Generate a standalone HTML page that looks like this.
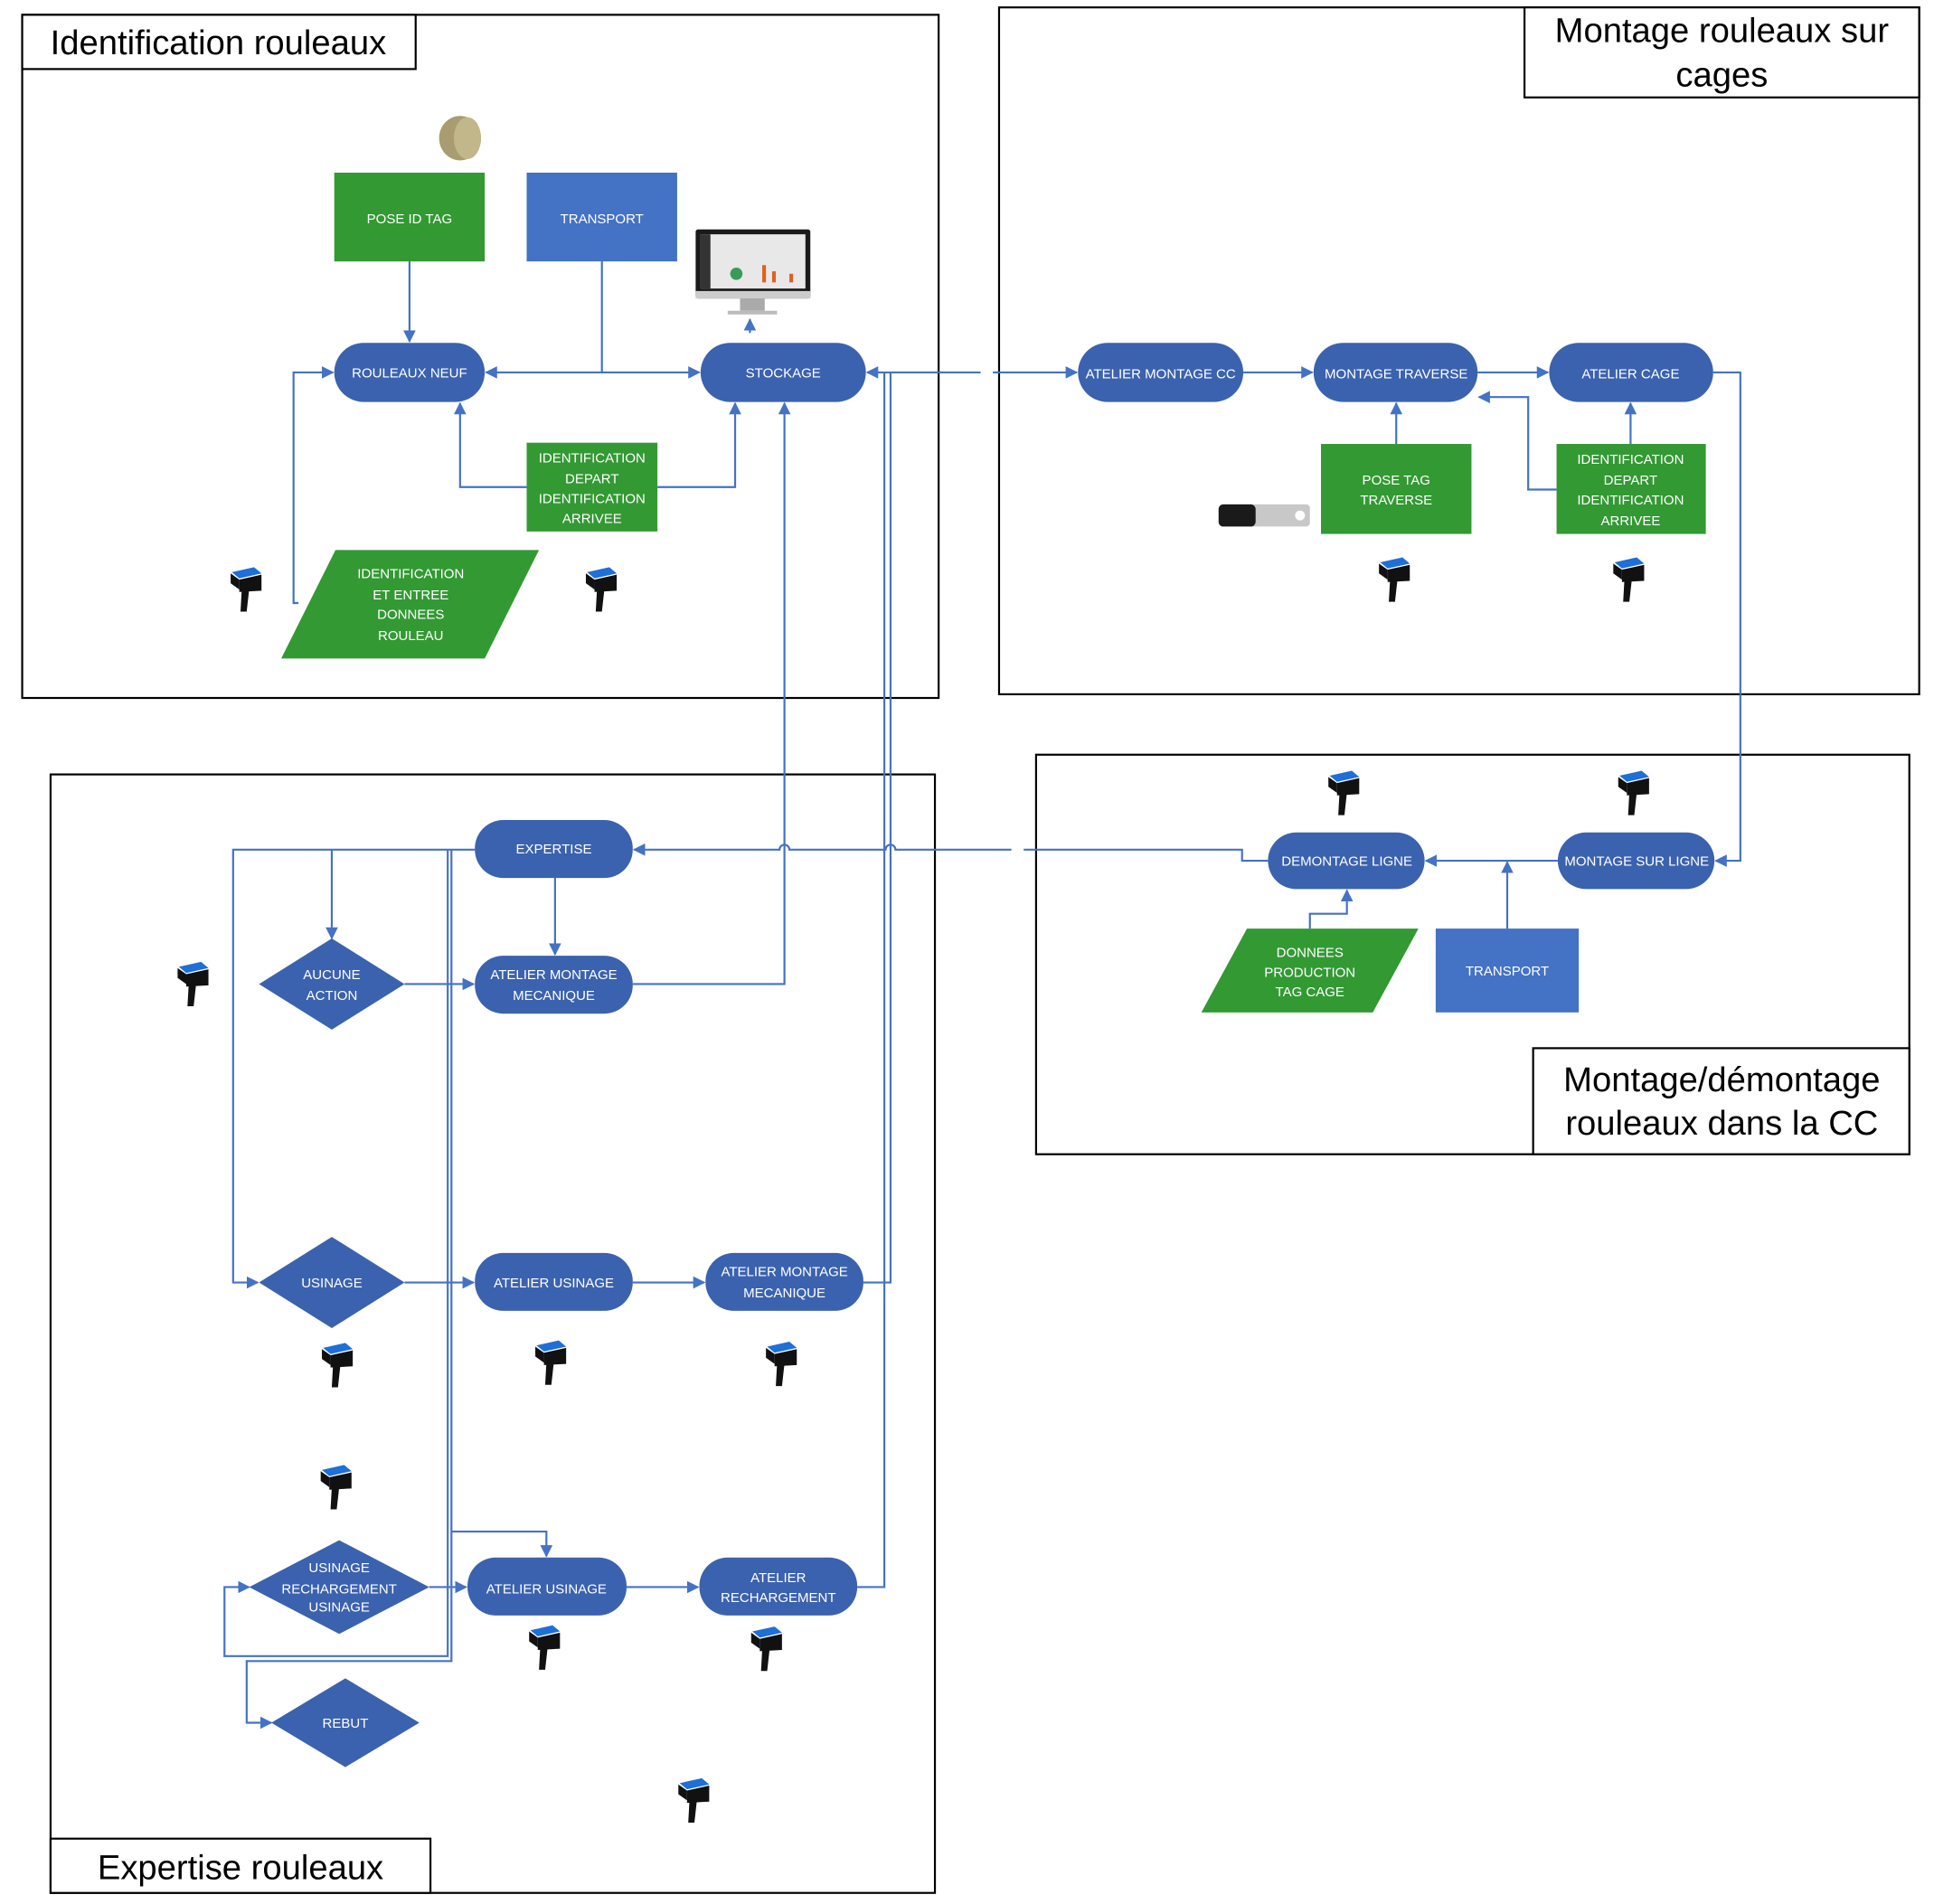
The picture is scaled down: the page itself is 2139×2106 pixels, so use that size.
<!DOCTYPE html>
<html><head><meta charset="utf-8"><style>
html,body{margin:0;padding:0;background:#fff;}
svg{display:block;}
.t{font-family:"Liberation Sans",sans-serif;fill:#fff;font-size:11px;text-anchor:middle;}
.h{font-family:"Liberation Sans",sans-serif;fill:#000;font-size:28px;text-anchor:middle;}
.c{stroke:#4472C4;stroke-width:1.6;fill:none;}
</style></head><body>
<svg width="2139" height="2106" viewBox="0 0 1568 1544" preserveAspectRatio="none" xmlns="http://www.w3.org/2000/svg">
<defs>
<marker id="a" viewBox="0 0 10 10" refX="9" refY="5" markerWidth="10" markerHeight="10" orient="auto-start-reverse" markerUnits="userSpaceOnUse"><path d="M0,0L10,5L0,10z" fill="#4472C4"/></marker>
<g id="sc">
<path d="M-12,-12 L6,-16 L12,-11 L-6,-7z" fill="#1e6fd6"/>
<path d="M-13,-11 L-6,-6 L-6,2 L-13,-3z" fill="#111"/>
<path d="M-6,-6 L12,-10 L12,3 L-6,4z" fill="#111"/>
<path d="M-4,2 L2,2 L0,20 L-5,20z" fill="#111"/>
</g>
</defs>
<rect width="1568" height="1544" fill="#fff"/>
<g fill="none" stroke="#000" stroke-width="1.6">
<rect x="18" y="12" width="743" height="554"/>
<rect x="18" y="12" width="319" height="44" fill="#fff"/>
<rect x="810" y="6" width="746" height="557"/>
<rect x="1236" y="6" width="320" height="73" fill="#fff"/>
<rect x="840" y="612" width="708" height="324"/>
<rect x="1243" y="850" width="305" height="86" fill="#fff"/>
<rect x="41" y="628" width="717" height="907"/>
<rect x="41" y="1491" width="308" height="44" fill="#fff"/>
</g>
<text class="h" x="177" y="44">Identification rouleaux</text>
<text class="h" x="1396" y="34">Montage rouleaux sur</text>
<text class="h" x="1396" y="70">cages</text>
<text class="h" x="1396" y="885">Montage/démontage</text>
<text class="h" x="1396" y="920">rouleaux dans la CC</text>
<text class="h" x="195" y="1524">Expertise rouleaux</text>

<g class="c">
<path d="M332,212V277" marker-end="url(#a)"/>
<path d="M488,212V302H394" marker-end="url(#a)"/>
<path d="M488,302H567" marker-end="url(#a)"/>
<path d="M427,395H373V327" marker-end="url(#a)"/>
<path d="M533,395H596V327" marker-end="url(#a)"/>
<path d="M608,270V259" marker-end="url(#a)"/>
<path d="M242,489H238V302H270" marker-end="url(#a)"/>
<path d="M795,302H703" marker-end="url(#a)"/>
<path d="M805,302H873" marker-end="url(#a)"/>
<path d="M1008,302H1064" marker-end="url(#a)"/>
<path d="M1198,302H1255" marker-end="url(#a)"/>
<path d="M1132,360V327" marker-end="url(#a)"/>
<path d="M1322,360V327" marker-end="url(#a)"/>
<path d="M1262,397H1239V322H1199" marker-end="url(#a)"/>
<path d="M1389,302H1411V698H1391" marker-end="url(#a)"/>
<path d="M1263,698H1156" marker-end="url(#a)"/>
<path d="M1222,753V699" marker-end="url(#a)"/>
<path d="M1062,753V741H1092V722" marker-end="url(#a)"/>
<path d="M1028,698H1007V689H830"/>
<path d="M820,689H726a4,4 0 0 0 -8,0H640a4,4 0 0 0 -8,0H514" marker-end="url(#a)"/>
<path d="M636,327V798H513" marker-start="url(#a)"/>
<path d="M717,302V1287H695"/>
<path d="M722,302V1040H700"/>
<path d="M385,689H189V1040H209" marker-end="url(#a)"/>
<path d="M269,689V761" marker-end="url(#a)"/>
<path d="M450,712V774" marker-end="url(#a)"/>
<path d="M363,689V1343H182V1287H202" marker-end="url(#a)"/>
<path d="M366,689V1347H200V1397H220" marker-end="url(#a)"/>
<path d="M328,798H384" marker-end="url(#a)"/>
<path d="M328,1040H384" marker-end="url(#a)"/>
<path d="M513,1040H571" marker-end="url(#a)"/>
<path d="M366,1242H443V1262" marker-end="url(#a)"/>
<path d="M348,1287H378" marker-end="url(#a)"/>
<path d="M508,1287H566" marker-end="url(#a)"/>
</g>

<rect x="271" y="140" width="122" height="72" fill="#339933"/>
<text class="t" x="332" y="181">POSE ID TAG</text>
<rect x="427" y="140" width="122" height="72" fill="#4472C4"/>
<text class="t" x="488" y="181">TRANSPORT</text>
<rect x="427" y="359" width="106" height="72" fill="#339933"/>
<text class="t" x="480" y="375">IDENTIFICATION</text><text class="t" x="480" y="392">DEPART</text><text class="t" x="480" y="408">IDENTIFICATION</text><text class="t" x="480" y="424">ARRIVEE</text>
<polygon points="228,534 272,446 437,446 393,534" fill="#339933"/>
<text class="t" x="333" y="469">IDENTIFICATION</text><text class="t" x="333" y="486">ET ENTREE</text><text class="t" x="333" y="502">DONNEES</text><text class="t" x="333" y="519">ROULEAU</text>
<rect x="1071" y="360" width="122" height="73" fill="#339933"/>
<text class="t" x="1132" y="393">POSE TAG</text><text class="t" x="1132" y="409">TRAVERSE</text>
<rect x="1262" y="360" width="121" height="73" fill="#339933"/>
<text class="t" x="1322" y="376">IDENTIFICATION</text><text class="t" x="1322" y="393">DEPART</text><text class="t" x="1322" y="409">IDENTIFICATION</text><text class="t" x="1322" y="426">ARRIVEE</text>
<polygon points="974,821 1011,753 1150,753 1113,821" fill="#339933"/>
<text class="t" x="1062" y="776">DONNEES</text><text class="t" x="1062" y="792">PRODUCTION</text><text class="t" x="1062" y="808">TAG CAGE</text>
<rect x="1164" y="753" width="116" height="68" fill="#4472C4"/>
<text class="t" x="1222" y="791">TRANSPORT</text>

<g fill="#3B62AE">
<rect x="271" y="278" width="122" height="48" rx="24"/>
<rect x="568" y="278" width="134" height="48" rx="24"/>
<rect x="874" y="278" width="134" height="48" rx="24"/>
<rect x="1065" y="278" width="133" height="48" rx="24"/>
<rect x="1256" y="278" width="133" height="48" rx="24"/>
<rect x="1028" y="675" width="127" height="46" rx="23"/>
<rect x="1263" y="675" width="127" height="46" rx="23"/>
<rect x="385" y="665" width="128" height="47" rx="23"/>
<rect x="385" y="775" width="128" height="47" rx="23"/>
<rect x="385" y="1016" width="128" height="47" rx="23"/>
<rect x="572" y="1016" width="128" height="47" rx="23"/>
<rect x="379" y="1263" width="129" height="47" rx="23"/>
<rect x="567" y="1263" width="128" height="47" rx="23"/>
<polygon points="210,798 269,761 328,798 269,835"/>
<polygon points="210,1040 269,1003 328,1040 269,1077"/>
<polygon points="202,1287 275,1249 348,1287 275,1325"/>
<polygon points="220,1397 280,1361 340,1397 280,1433"/>
</g>
<text class="t" x="332" y="306">ROULEAUX NEUF</text>
<text class="t" x="635" y="306">STOCKAGE</text>
<text class="t" x="941" y="307">ATELIER MONTAGE CC</text>
<text class="t" x="1132" y="307">MONTAGE TRAVERSE</text>
<text class="t" x="1322" y="307">ATELIER CAGE</text>
<text class="t" x="1092" y="702">DEMONTAGE LIGNE</text>
<text class="t" x="1327" y="702">MONTAGE SUR LIGNE</text>
<text class="t" x="449" y="692">EXPERTISE</text>
<text class="t" x="449" y="794">ATELIER MONTAGE</text><text class="t" x="449" y="811">MECANIQUE</text>
<text class="t" x="449" y="1044">ATELIER USINAGE</text>
<text class="t" x="636" y="1035">ATELIER MONTAGE</text><text class="t" x="636" y="1052">MECANIQUE</text>
<text class="t" x="443" y="1292">ATELIER USINAGE</text>
<text class="t" x="631" y="1283">ATELIER</text><text class="t" x="631" y="1299">RECHARGEMENT</text>
<text class="t" x="269" y="794">AUCUNE</text><text class="t" x="269" y="811">ACTION</text>
<text class="t" x="269" y="1044">USINAGE</text>
<text class="t" x="275" y="1275">USINAGE</text><text class="t" x="275" y="1292">RECHARGEMENT</text><text class="t" x="275" y="1307">USINAGE</text>
<text class="t" x="280" y="1401">REBUT</text>

<ellipse cx="373" cy="112" rx="17" ry="18" fill="#a89c70"/><ellipse cx="379" cy="112" rx="11" ry="17" fill="#c2b78a"/>
<rect x="564" y="186" width="93" height="56" rx="2" fill="#1a1a1a"/>
<rect x="568" y="190" width="85" height="44" fill="#e8e8e8"/>
<rect x="568" y="190" width="8" height="44" fill="#333"/>
<rect x="618" y="215" width="3" height="14" fill="#e06020"/><rect x="626" y="220" width="3" height="9" fill="#e06020"/><rect x="640" y="222" width="3" height="7" fill="#e06020"/>
<circle cx="597" cy="222" r="5" fill="#3a9a5a"/>
<rect x="564" y="236" width="93" height="6" fill="#ccc"/>
<rect x="600" y="242" width="20" height="10" fill="#aaa"/>
<rect x="590" y="252" width="40" height="3" fill="#bbb"/>
<rect x="988" y="409" width="74" height="18" rx="3" fill="#c8c8c8"/>
<rect x="988" y="409" width="30" height="18" rx="4" fill="#1a1a1a"/>
<circle cx="1054" cy="418" r="4" fill="#fff"/>
<use href="#sc" x="200" y="476"/><use href="#sc" x="488" y="476"/>
<use href="#sc" x="1131" y="468"/><use href="#sc" x="1321" y="468"/>
<use href="#sc" x="1090" y="641"/><use href="#sc" x="1325" y="641"/>
<use href="#sc" x="157" y="796"/><use href="#sc" x="274" y="1105"/>
<use href="#sc" x="447" y="1103"/><use href="#sc" x="634" y="1104"/>
<use href="#sc" x="273" y="1204"/><use href="#sc" x="442" y="1334"/>
<use href="#sc" x="622" y="1335"/><use href="#sc" x="563" y="1458"/>
</svg>
</body></html>
